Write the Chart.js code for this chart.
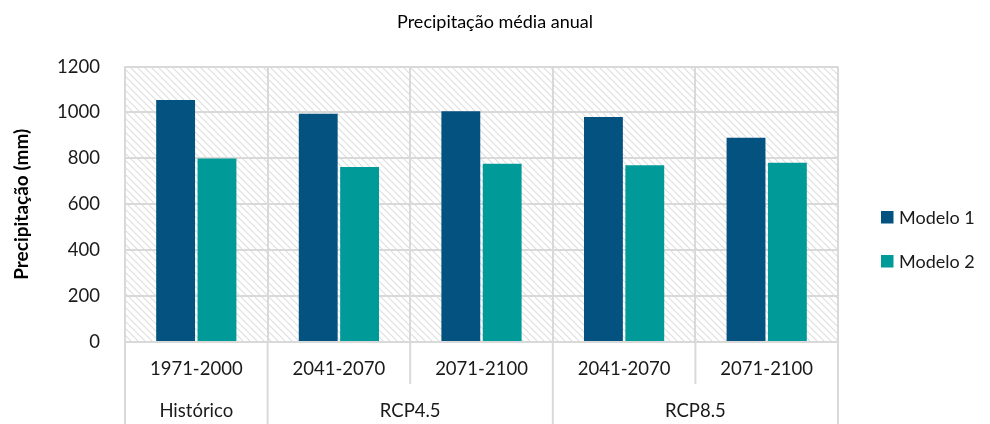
<!DOCTYPE html>
<html>
<head>
<meta charset="utf-8">
<script src="https://cdn.jsdelivr.net/npm/chart.js@4"></script>
<style>
  body { margin: 0; background: #fff; }
  canvas { display: block; }
</style>
</head>
<body>
<canvas id="chart" width="990" height="424"></canvas>
<script>
// dados
const periods = ['1971-2000', '2041-2070', '2071-2100', '2041-2070', '2071-2100'];
const groups = ['Histórico', 'RCP4.5', 'RCP8.5'];
const groupSizes = [1, 2, 2];
const modelo1 = [1055, 995, 1005, 980, 890];
const modelo2 = [800, 762, 777, 770, 781];
const yTicks = [0, 200, 400, 600, 800, 1000, 1200];

const FONT = 'Lato, "Noto Sans", sans-serif';
const GRID = '#d9d9d9';
const TXT = '#1a1a1a';

// padrão tracejado diagonal do fundo da área de plotagem
function hatchPattern(ctx) {
  const c = document.createElement('canvas');
  c.width = 7; c.height = 7;
  const p = c.getContext('2d');
  p.fillStyle = '#fff';
  p.fillRect(0, 0, 7, 7);
  p.strokeStyle = '#dedede';
  p.lineWidth = 1.1;
  p.beginPath();
  p.moveTo(-1, -1); p.lineTo(8, 8);
  p.moveTo(-1, 6); p.lineTo(1, 8);
  p.moveTo(6, -1); p.lineTo(8, 1);
  p.stroke();
  return ctx.createPattern(c, 'repeat');
}

const backgroundPlugin = {
  id: 'hatchBg',
  beforeDraw(chart) {
    const { ctx, chartArea: a } = chart;
    ctx.save();
    ctx.fillStyle = hatchPattern(ctx);
    ctx.fillRect(a.left, a.top, a.right - a.left, a.bottom - a.top);
    ctx.restore();
  }
};

// rótulos de grupo e separadores abaixo do eixo x
const groupAxisPlugin = {
  id: 'groupAxis',
  afterDraw(chart) {
    const { ctx, chartArea: a } = chart;
    const x = chart.scales.x;
    const catW = x.width / periods.length;
    ctx.save();
    ctx.strokeStyle = GRID;
    ctx.lineWidth = 2;
    // separadores internos (entre períodos do mesmo grupo)
    let idx = 0;
    groupSizes.forEach((n) => {
      for (let k = 1; k < n; k++) {
        const px = x.getPixelForValue(idx + k) - catW / 2;
        ctx.beginPath(); ctx.moveTo(px, a.bottom); ctx.lineTo(px, a.bottom + 42); ctx.stroke();
      }
      idx += n;
    });
    // separadores de grupo
    idx = 0;
    const edges = [0];
    groupSizes.forEach((n) => { idx += n; edges.push(idx); });
    edges.forEach((e) => {
      const px = x.getPixelForValue(e) - catW / 2;
      ctx.beginPath(); ctx.moveTo(px, a.bottom); ctx.lineTo(px, chart.height); ctx.stroke();
    });
    // textos dos grupos
    ctx.fillStyle = TXT;
    ctx.font = '18.5px ' + FONT;
    ctx.textAlign = 'center';
    ctx.textBaseline = 'middle';
    idx = 0;
    groups.forEach((g, i) => {
      const first = x.getPixelForValue(idx);
      const last = x.getPixelForValue(idx + groupSizes[i] - 1);
      ctx.fillText(g, (first + last) / 2, a.bottom + 69);
      idx += groupSizes[i];
    });
    ctx.restore();
  }
};

// legenda à direita
const legendPlugin = {
  id: 'sideLegend',
  afterDraw(chart) {
    const { ctx } = chart;
    ctx.save();
    ctx.font = '18px ' + FONT;
    ctx.textBaseline = 'middle';
    ctx.textAlign = 'left';
    chart.data.datasets.forEach((ds, i) => {
      const cy = 217 + i * 44;
      ctx.fillStyle = ds.backgroundColor;
      ctx.fillRect(881, cy - 6, 12.5, 12.5);
      ctx.fillStyle = TXT;
      ctx.fillText(ds.label, 899, cy + 1);
    });
    ctx.restore();
  }
};

new Chart(document.getElementById('chart'), {
  type: 'bar',
  data: {
    labels: periods,
    datasets: [
      { label: 'Modelo 1', data: modelo1, backgroundColor: '#03527f',
        categoryPercentage: 0.58, barPercentage: 0.94 },
      { label: 'Modelo 2', data: modelo2, backgroundColor: '#009b98',
        categoryPercentage: 0.58, barPercentage: 0.94 }
    ]
  },
  options: {
    responsive: false,
    animation: false,
    layout: { padding: 0 },
    plugins: {
      legend: { display: false },
      tooltip: { enabled: false },
      title: {
        display: true,
        text: 'Precipitação média anual',
        color: '#000',
        font: { family: FONT, size: 18, weight: 'normal' },
        padding: { top: 11, bottom: 34 }
      }
    },
    scales: {
      x: {
        grid: { color: GRID, lineWidth: 2, drawTicks: false, offset: true },
        border: { color: GRID, width: 2 },
        ticks: { color: TXT, font: { family: FONT, size: 18.5 }, padding: 16, maxRotation: 0 },
        afterFit(s) { s.height = 82; }
      },
      y: {
        min: 0,
        max: 1200,
        afterBuildTicks(s) { s.ticks = yTicks.map(v => ({ value: v })); },
        grid: { color: GRID, lineWidth: 2, drawTicks: false },
        border: { color: GRID, width: 2 },
        ticks: { color: TXT, font: { family: FONT, size: 18.5 }, padding: 25,
                 callback: (v) => String(v) },
        title: {
          display: true,
          text: 'Precipitação (mm)',
          color: '#000',
          font: { family: FONT, size: 19, weight: 'bold' },
          padding: { top: 10, bottom: 0 }
        },
        afterFit(s) { s.width = 125; }
      },
      // eixo vazio à direita, reserva o espaço da legenda
      spacer: {
        type: 'linear',
        axis: 'y',
        position: 'right',
        grid: { display: false },
        border: { display: false },
        ticks: { display: false },
        afterFit(s) { s.width = 152; }
      }
    }
  },
  plugins: [backgroundPlugin, groupAxisPlugin, legendPlugin]
});
</script>
</body>
</html>
